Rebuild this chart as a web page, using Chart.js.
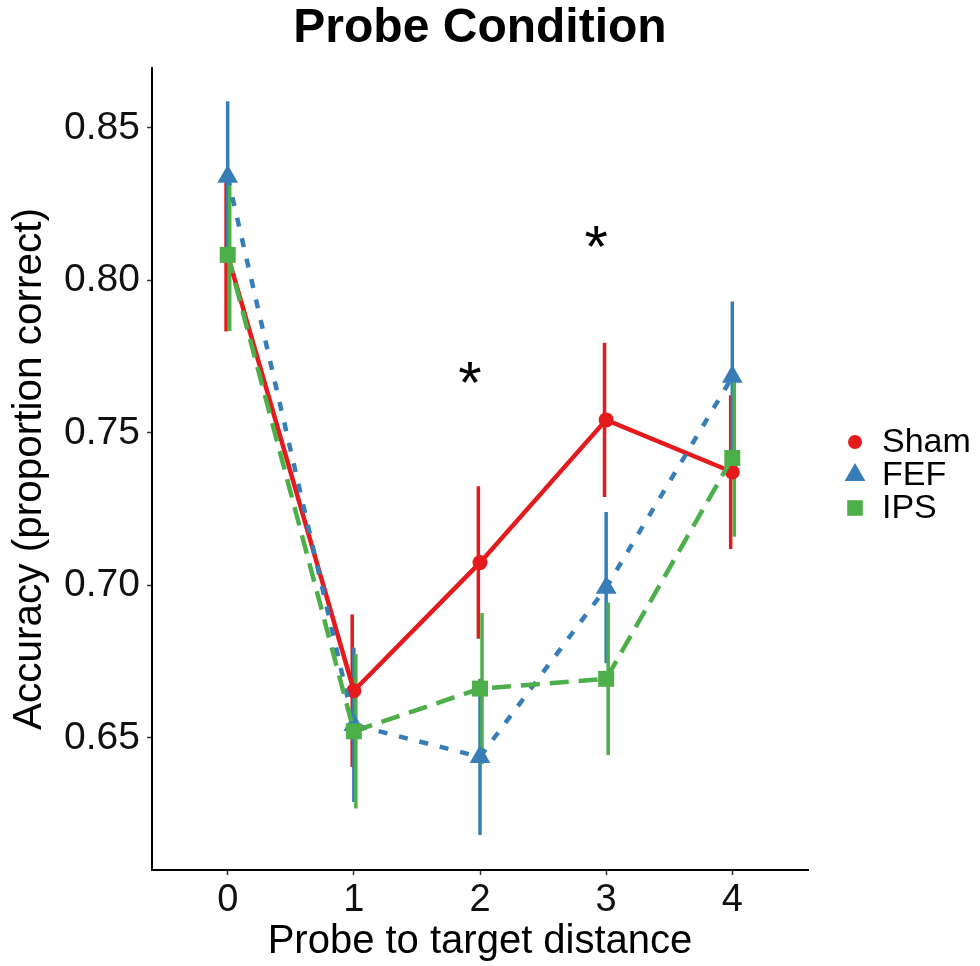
<!DOCTYPE html>
<html>
<head>
<meta charset="utf-8">
<script src="https://cdn.jsdelivr.net/npm/chart.js@4/dist/chart.umd.min.js"></script>
<style>
  html, body { margin: 0; padding: 0; background: #fff; }
  #wrap { width: 980px; height: 966px; }
</style>
</head>
<body>
<div id="wrap"><canvas id="probeChart" width="980" height="966"></canvas></div>
<script>
// Probe to target distance
const distances = [0, 1, 2, 3, 4];

// mean accuracy and error (half length of the bar) per condition
const shamMean = [0.8083, 0.6655, 0.7075, 0.7543, 0.7372];
const shamErr  = [0.025, 0.025, 0.025, 0.0253, 0.0252];
const fefMean  = [0.834, 0.6543, 0.6438, 0.6993, 0.7684];
const fefErr   = [0.0248, 0.0253, 0.0256, 0.0248, 0.0247];
const ipsMean  = [0.8084, 0.6522, 0.6662, 0.6694, 0.7418];
const ipsErr   = [0.025, 0.0253, 0.0248, 0.025, 0.0258];

const yTicks = [0.65, 0.70, 0.75, 0.80, 0.85];

// significance markers
const starX = [1.92, 2.92];
const starY = [0.770, 0.8146];

const FONT = "'Liberation Sans', Arial, Helvetica, sans-serif";
const RED = '#E41A1C', BLUE = '#377EB8', GREEN = '#4DAF4A';

const toPoints = means => distances.map((d, i) => ({ x: d, y: means[i] }));

// vertical error bars (slightly dodged), drawn below lines and points
const errorBars = {
    id: 'errorBars',
    beforeDatasetsDraw(chart) {
        const { ctx, scales: { x, y } } = chart;
        chart.data.datasets.forEach(ds => {
            ctx.save();
            ctx.strokeStyle = ds.borderColor;
            ctx.lineWidth = 3.5;
            ds.data.forEach((p, i) => {
                const px = x.getPixelForValue(p.x + ds.barShift);
                ctx.beginPath();
                ctx.moveTo(px, y.getPixelForValue(p.y - ds.errors[i]));
                ctx.lineTo(px, y.getPixelForValue(p.y + ds.errors[i]));
                ctx.stroke();
            });
            ctx.restore();
        });
    }
};

// asterisks and the legend on the right
const extras = {
    id: 'extras',
    afterDraw(chart) {
        const { ctx, scales: { x, y }, chartArea } = chart;
        ctx.save();
        const starSize = 60;
        ctx.font = `${starSize}px ${FONT}`;
        ctx.fillStyle = '#000';
        ctx.textAlign = 'center';
        ctx.textBaseline = 'alphabetic';
        starX.forEach((sx, i) => {
            ctx.fillText('*', x.getPixelForValue(sx), y.getPixelForValue(starY[i]) + starSize * 0.52);
        });

        // legend
        const lx = chartArea.right + 47;
        const ly = (chartArea.top + chartArea.bottom) / 2 - 27;
        ctx.font = `34px ${FONT}`;
        ctx.textAlign = 'left';
        ctx.textBaseline = 'middle';
        chart.data.datasets.forEach((ds, i) => {
            const cy = ly + i * 33;
            ctx.fillStyle = ds.borderColor;
            ctx.strokeStyle = ds.borderColor;
            Chart.helpers.drawPoint(ctx, {
                pointStyle: ds.pointStyle,
                radius: ds.legendRadius,
                rotation: 0,
                borderWidth: 0
            }, lx, cy);
            ctx.fillStyle = '#000';
            ctx.fillText(ds.label, lx + 27, cy + 1);
        });
        ctx.restore();
    }
};

const axisBase = {
    border: { display: true, color: '#000', width: 2 },
    grid: { drawOnChartArea: false, drawTicks: true, tickLength: 5, tickColor: '#333', tickWidth: 1.5 }
};

new Chart(document.getElementById('probeChart'), {
    type: 'line',
    data: {
        datasets: [
            {
                label: 'Sham', data: toPoints(shamMean), errors: shamErr, barShift: -0.013,
                borderColor: RED, backgroundColor: RED, borderWidth: 4.5,
                pointStyle: 'circle', pointRadius: 7.5, pointBorderWidth: 0,
                legendRadius: 7, order: 3
            },
            {
                label: 'FEF', data: toPoints(fefMean), errors: fefErr, barShift: 0,
                borderColor: BLUE, backgroundColor: BLUE, borderWidth: 4.5, borderDash: [9, 12],
                pointStyle: 'triangle', pointRadius: 12, pointBorderWidth: 0,
                legendRadius: 12, order: 2
            },
            {
                label: 'IPS', data: toPoints(ipsMean), errors: ipsErr, barShift: 0.016,
                borderColor: GREEN, backgroundColor: GREEN, borderWidth: 4.5, borderDash: [19, 10],
                pointStyle: 'rect', pointRadius: 11.3, pointBorderWidth: 0,
                legendRadius: 11, order: 1
            }
        ]
    },
    options: {
        responsive: false,
        animation: false,
        layout: { padding: { left: 0, right: 172, top: 0, bottom: 0 } },
        plugins: {
            legend: { display: false },
            tooltip: { enabled: false },
            title: {
                display: true,
                fullSize: false,
                text: 'Probe Condition',
                color: '#000',
                font: { family: FONT, size: 48, weight: 'bold' },
                padding: { top: 0, bottom: 10.4 }
            }
        },
        elements: { line: { tension: 0, fill: false } },
        scales: {
            x: {
                ...axisBase,
                type: 'linear',
                min: -0.6,
                max: 4.6,
                afterFit: scale => { scale.height = 96; },
                ticks: {
                    stepSize: 1,
                    includeBounds: false,
                    padding: 3,
                    color: '#111',
                    font: { family: FONT, size: 38 },
                    callback: v => distances.includes(v) ? String(v) : ''
                },
                title: {
                    display: true,
                    text: 'Probe to target distance',
                    color: '#000',
                    font: { family: FONT, size: 40 },
                    padding: { top: 0, bottom: 0 }
                }
            },
            y: {
                ...axisBase,
                min: 0.60672,
                max: 0.86967,
                afterFit: scale => { scale.width = 152; },
                afterBuildTicks: scale => { scale.ticks = yTicks.map(v => ({ value: v })); },
                ticks: {
                    padding: 7,
                    color: '#111',
                    font: { family: FONT, size: 39 },
                    callback: v => Number(v).toFixed(2)
                },
                title: {
                    display: true,
                    text: 'Accuracy (proportion correct)',
                    color: '#000',
                    font: { family: FONT, size: 40.5 },
                    padding: { top: 6, bottom: 0 }
                }
            }
        }
    },
    plugins: [errorBars, extras]
});
</script>
</body>
</html>
